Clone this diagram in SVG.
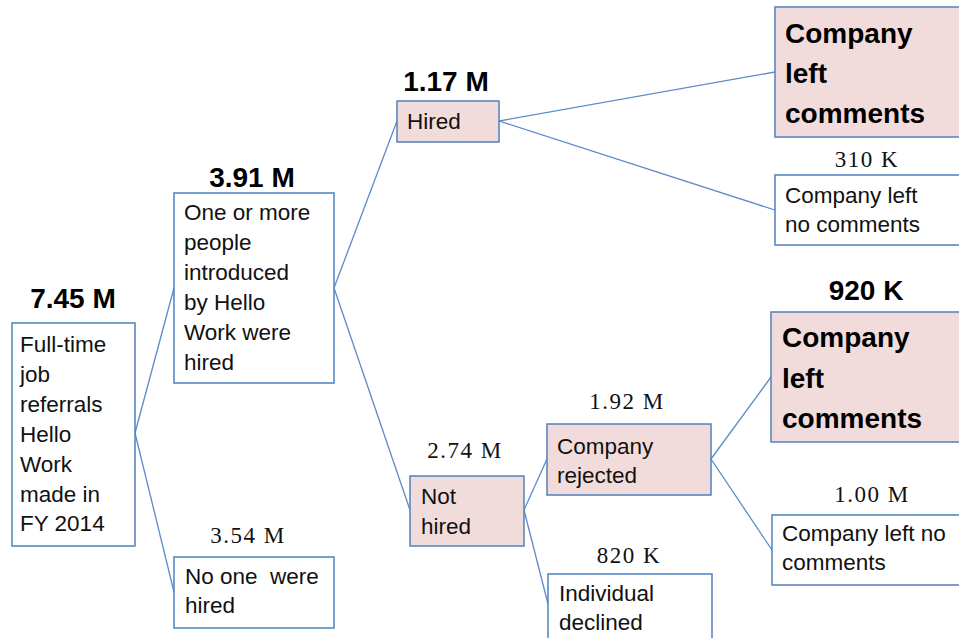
<svg xmlns="http://www.w3.org/2000/svg" width="959" height="638" viewBox="0 0 959 638">
<style>
.box{fill:#ffffff;stroke:#4f81bd;stroke-width:1.5}
.pink{fill:#f2dcdb;stroke:#4f81bd;stroke-width:1.5}
.t{font-family:"Liberation Sans",Arial,sans-serif;font-size:22.5px;fill:#111}
.tb{font-family:"Liberation Sans",Arial,sans-serif;font-size:28px;font-weight:bold;fill:#000}
.lb{font-family:"Liberation Sans",Arial,sans-serif;font-size:28px;font-weight:bold;fill:#000;text-anchor:middle}
.ls{font-family:"Liberation Serif","Times New Roman",serif;font-size:23px;fill:#111;text-anchor:middle;letter-spacing:1.5px}
.c{stroke:#5b8bc9;stroke-width:1.3;fill:none}
</style>
<rect width="959" height="638" fill="#ffffff"/>
<g id="connectors">
<line class="c" x1="135" y1="433" x2="174" y2="288"/>
<line class="c" x1="135" y1="433" x2="174" y2="592"/>
<line class="c" x1="334" y1="288" x2="397" y2="121"/>
<line class="c" x1="334" y1="288" x2="410" y2="510"/>
<line class="c" x1="499" y1="121" x2="775" y2="72"/>
<line class="c" x1="499" y1="121" x2="775" y2="210"/>
<line class="c" x1="524" y1="510" x2="547" y2="459"/>
<line class="c" x1="524" y1="510" x2="548" y2="604"/>
<line class="c" x1="711" y1="459" x2="771" y2="377"/>
<line class="c" x1="711" y1="459" x2="772" y2="550"/>
</g>
<g id="n-total">
<text class="lb" x="73" y="308">7.45 M</text>
<rect class="box" x="12" y="323" width="123" height="223"/>
<text class="t" x="20" y="352">Full-time</text>
<text class="t" x="20" y="382">job</text>
<text class="t" x="20" y="412">referrals</text>
<text class="t" x="20" y="442">Hello</text>
<text class="t" x="20" y="472">Work</text>
<text class="t" x="20" y="502">made in</text>
<text class="t" x="20" y="531">FY 2014</text>
</g>
<g id="n-some">
<text class="lb" x="252" y="187">3.91 M</text>
<rect class="box" x="174" y="193" width="160" height="190"/>
<text class="t" x="184" y="220">One or more</text>
<text class="t" x="184" y="250">people</text>
<text class="t" x="184" y="280">introduced</text>
<text class="t" x="184" y="310">by Hello</text>
<text class="t" x="184" y="340">Work were</text>
<text class="t" x="184" y="370">hired</text>
</g>
<g id="n-none">
<text class="ls" x="248" y="543">3.54 M</text>
<rect class="box" x="174" y="557" width="160" height="71"/>
<text class="t" x="185" y="584" xml:space="preserve">No one  were</text>
<text class="t" x="185" y="613">hired</text>
</g>
<g id="n-hired">
<text class="lb" x="446" y="91">1.17 M</text>
<rect class="pink" x="397" y="101" width="102" height="41"/>
<text class="t" x="407" y="129">Hired</text>
</g>
<g id="n-hired-comments">
<rect class="pink" x="775" y="7" width="200" height="130"/>
<text class="tb" x="785" y="43">Company</text>
<text class="tb" x="785" y="83">left</text>
<text class="tb" x="785" y="123">comments</text>
</g>
<g id="n-hired-nocomments">
<text class="ls" x="867" y="167">310 K</text>
<rect class="box" x="775" y="175" width="200" height="70"/>
<text class="t" x="785" y="203">Company left</text>
<text class="t" x="785" y="232">no comments</text>
</g>
<g id="n-nothired">
<text class="ls" x="465" y="458">2.74 M</text>
<rect class="pink" x="410" y="476" width="114" height="70"/>
<text class="t" x="421" y="504">Not</text>
<text class="t" x="421" y="534">hired</text>
</g>
<g id="n-rejected">
<text class="ls" x="627" y="409">1.92 M</text>
<rect class="pink" x="547" y="424" width="164" height="71"/>
<text class="t" x="557" y="454">Company</text>
<text class="t" x="557" y="483">rejected</text>
</g>
<g id="n-declined">
<text class="ls" x="629" y="563">820 K</text>
<rect class="box" x="548" y="574" width="164" height="80"/>
<text class="t" x="559" y="601">Individual</text>
<text class="t" x="559" y="630">declined</text>
</g>
<g id="n-rejected-comments">
<text class="lb" x="866" y="300">920 K</text>
<rect class="pink" x="771" y="312" width="200" height="130"/>
<text class="tb" x="782" y="347">Company</text>
<text class="tb" x="782" y="388">left</text>
<text class="tb" x="782" y="428">comments</text>
</g>
<g id="n-rejected-nocomments">
<text class="ls" x="872" y="502">1.00 M</text>
<rect class="box" x="772" y="515" width="200" height="70"/>
<text class="t" x="782" y="541">Company left no</text>
<text class="t" x="782" y="570">comments</text>
</g>
</svg>
